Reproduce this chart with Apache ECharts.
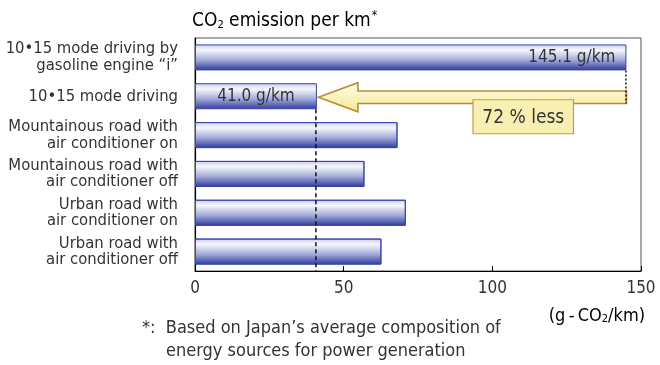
<!DOCTYPE html>
<html>
<head>
<meta charset="utf-8">
<script src="https://cdn.jsdelivr.net/npm/echarts@6/dist/echarts.min.js"></script>
<style>
  html, body { margin: 0; padding: 0; background: #fff; }
  #chart { width: 660px; height: 365px; }
</style>
</head>
<body>
<div id="chart"></div>
<script>
// Driving conditions (top to bottom)
const categories = [
  '10\u202215 mode driving by\ngasoline engine \u201ci\u201d',
  '10\u202215 mode driving',
  'Mountainous road with\nair conditioner on',
  'Mountainous road with\nair conditioner off',
  'Urban road with\nair conditioner on',
  'Urban road with\nair conditioner off'
];
// CO2 emission per km (g-CO2/km)
const emissions = [145.1, 41.0, 68.1, 57.0, 70.9, 62.7];
// Value labels shown inside the first two bars
const valueLabels = ['145.1 g/km', '41.0 g/km', '', '', '', ''];
const xTicks = [0, 50, 100, 150];
const reductionText = '72 % less';

const FONT = '"Liberation Sans Narrow", "DejaVu Sans Condensed", "Liberation Sans", sans-serif';
const TEXT = '#333';

const chart = echarts.init(document.getElementById('chart'), null, { renderer: 'canvas' });

const barFill = new echarts.graphic.LinearGradient(0, 0, 0, 1, [
  { offset: 0, color: '#c9cdea' },
  { offset: 0.22, color: '#f6f7fc' },
  { offset: 0.6, color: '#a3aad9' },
  { offset: 1, color: '#2b3a9c' }
]);

chart.setOption({
  animation: false,
  grid: {
    left: 195, right: 19, top: 38, bottom: 94,
    show: true, borderColor: '#555', borderWidth: 1, backgroundColor: 'transparent'
  },
  xAxis: {
    type: 'value',
    min: xTicks[0], max: xTicks[xTicks.length - 1], interval: 50,
    axisLine: { show: true, onZero: false, lineStyle: { color: '#000', width: 1.2 } },
    axisTick: { show: true, inside: true, length: 5, lineStyle: { color: '#000' } },
    splitLine: { show: false },
    axisLabel: { fontFamily: FONT, fontSize: 17, color: TEXT, margin: 9 }
  },
  yAxis: {
    type: 'category',
    inverse: true,
    data: categories,
    axisLine: { show: true, lineStyle: { color: '#000', width: 1.2 } },
    axisTick: { show: false },
    axisLabel: { fontFamily: FONT, fontSize: 16.5, lineHeight: 16.5, color: TEXT, margin: 17 }
  },
  series: [{
    type: 'bar',
    data: emissions.map((v, i) => ({
      value: v,
      label: {
        show: !!valueLabels[i],
        formatter: valueLabels[i],
        position: i === 0 ? 'insideRight' : 'inside',
        distance: 6,
        offset: i === 0 ? [-5, 0] : [0, 0]
      }
    })),
    barCategoryGap: '33%',
    itemStyle: { color: barFill, borderColor: '#3c45aa', borderWidth: 1 },
    label: { fontFamily: FONT, fontSize: 17, color: TEXT }
  }]
});

// Annotations anchored on the axis scales
function annotate() {
  const px = (v, c) => chart.convertToPixel({ gridIndex: 0 }, [v, c]);
  const x0 = px(0, 0)[0];
  const band = px(0, 1)[1] - px(0, 0)[1];
  const half = band * 0.335;
  const base = emissions[0];
  const hybrid = emissions[1];
  const xBase = px(base, 0)[0];
  const xHyb = px(hybrid, 1)[0];
  const xMax = px(xTicks[xTicks.length - 1], 0)[0];
  const y0 = px(0, 0)[1];
  const y1 = px(0, 1)[1];
  const plotBottom = y0 + band * (categories.length - 0.5);

  const headLen = 41, headHalf = 14.5, shaftHalf = 6.3;
  const cy = y1 + 1;
  const arrowPts = [
    [xHyb + 1.5, cy],
    [xHyb + headLen, cy - headHalf],
    [xHyb + headLen, cy - shaftHalf],
    [xBase, cy - shaftHalf],
    [xBase, cy + shaftHalf],
    [xHyb + headLen, cy + shaftHalf],
    [xHyb + headLen, cy + headHalf]
  ];

  const boxL = px(93.5, 1)[0], boxR = px(127.3, 1)[0];
  const boxTop = cy + 2.5, boxH = 34;

  chart.setOption({
    graphic: [
      // dashed reference line at the hybrid value
      { type: 'line', silent: true, z: 20,
        shape: { x1: xHyb - 1, y1: y1 + half, x2: xHyb - 1, y2: plotBottom },
        style: { stroke: '#111', lineWidth: 1.5, lineDash: [4, 3] } },
      // dotted drop from the gasoline bar to the arrow tail
      { type: 'line', silent: true, z: 20,
        shape: { x1: xBase - 0.5, y1: y0 + half, x2: xBase - 0.5, y2: cy + shaftHalf },
        style: { stroke: '#111', lineWidth: 1.5, lineDash: [2, 2] } },
      // reduction arrow
      { type: 'polygon', silent: true, z: 15,
        shape: { points: arrowPts },
        style: {
          fill: new echarts.graphic.LinearGradient(0, 0, 0, 1, [
            { offset: 0, color: '#fffdf0' },
            { offset: 1, color: '#f4e88c' }
          ]),
          stroke: '#b48f3a', lineWidth: 1.6
        } },
      // reduction label box
      { type: 'rect', silent: true, z: 16,
        shape: { x: boxL, y: boxTop, width: boxR - boxL, height: boxH },
        style: { fill: '#f8f0b2', stroke: '#c29c45', lineWidth: 1.2 } },
      { type: 'text', silent: true, z: 17,
        style: { text: reductionText, x: (boxL + boxR) / 2, y: boxTop + boxH / 2 + 1,
          align: 'center', verticalAlign: 'middle',
          font: '19px ' + FONT, fill: TEXT } },
      // axis title
      { type: 'text', silent: true,
        style: {
          x: x0 - 3, y: 21, verticalAlign: 'middle',
          text: '{a|CO}{s|2}{a| emission per km}{p|*}',
          rich: {
            a: { fontFamily: FONT, fontSize: 19, color: TEXT },
            s: { fontFamily: FONT, fontSize: 11, color: TEXT, padding: [8, 0, 0, 0] },
            p: { fontFamily: FONT, fontSize: 12, color: TEXT, padding: [0, 0, 10, 1] }
          }
        } },
      // unit
      { type: 'text', silent: true,
        style: {
          x: xMax + 4, y: 316, align: 'right', verticalAlign: 'middle',
          text: '{a|(g\u2009-\u2009CO}{s|2}{a|/km)}',
          rich: {
            a: { fontFamily: FONT, fontSize: 18, color: TEXT },
            s: { fontFamily: FONT, fontSize: 11, color: TEXT, padding: [7, 0, 0, 0] }
          }
        } },
      // footnote
      { type: 'text', silent: true,
        style: { x: 142, y: 328, verticalAlign: 'middle',
          text: '*:  Based on Japan\u2019s average composition of',
          font: '18px ' + FONT, fill: TEXT } },
      { type: 'text', silent: true,
        style: { x: 166, y: 351, verticalAlign: 'middle',
          text: 'energy sources for power generation',
          font: '18px ' + FONT, fill: TEXT } }
    ]
  });
}
annotate();
</script>
</body>
</html>
